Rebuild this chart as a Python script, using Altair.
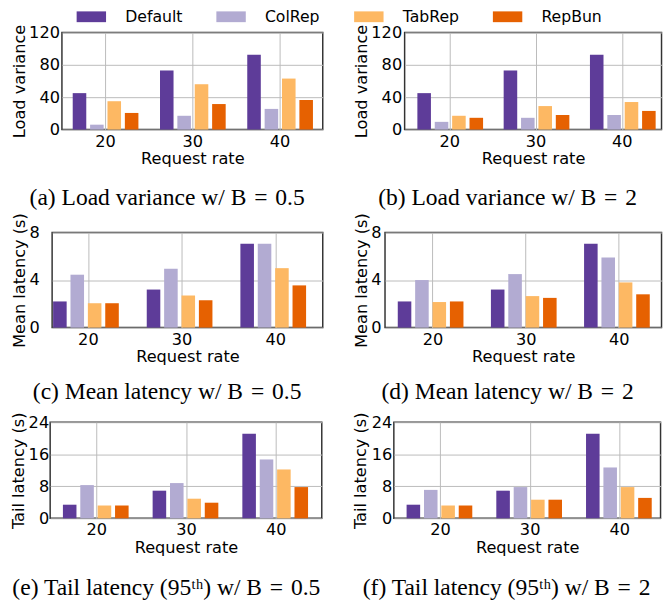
import altair as alt
import pandas as pd

methods = ["Default", "ColRep", "TabRep", "RepBun"]
colors = ["#5e3c99", "#b2abd2", "#fdb863", "#e66101"]
rates = ["20", "30", "40"]

# (a) Load variance, B = 0.5
load_var_b05 = {"Default": [45, 73, 92.5], "ColRep": [6, 17, 25.5],
                "TabRep": [35, 56, 63], "RepBun": [20.5, 31.5, 36.5]}
# (b) Load variance, B = 2
load_var_b2 = {"Default": [45, 73, 92.5], "ColRep": [9.5, 14.5, 18],
               "TabRep": [17, 29, 34], "RepBun": [14.5, 18, 23]}
# (c) Mean latency, B = 0.5
mean_lat_b05 = {"Default": [2.2, 3.2, 7.05], "ColRep": [4.45, 4.95, 7.05],
                "TabRep": [2.05, 2.7, 5.0], "RepBun": [2.05, 2.3, 3.55]}
# (d) Mean latency, B = 2
mean_lat_b2 = {"Default": [2.2, 3.2, 7.05], "ColRep": [4.0, 4.5, 5.9],
               "TabRep": [2.15, 2.65, 3.8], "RepBun": [2.2, 2.5, 2.8]}
# (e) Tail latency (95th), B = 0.5
tail_lat_b05 = {"Default": [3.4, 6.9, 21.1], "ColRep": [8.3, 8.8, 14.7],
                "TabRep": [3.2, 4.9, 12.2], "RepBun": [3.2, 3.9, 7.8]}
# (f) Tail latency (95th), B = 2
tail_lat_b2 = {"Default": [3.4, 6.9, 21.1], "ColRep": [7.1, 7.8, 12.7],
               "TabRep": [3.2, 4.65, 7.8], "RepBun": [3.2, 4.65, 5.1]}

FONT = "DejaVu Sans"
SERIF = "Liberation Serif"
AX = 16.5
SP = "\u2004"

legend = alt.Legend(
    title=None, orient="none", legendX=77, legendY=-24, direction="horizontal",
    columns=4, columnPadding=34.5, labelOffset=26.5, labelFontSize=16, labelFont=FONT,
    labelColor="black", symbolType="M-3,-1.1H3V1.1H-3Z", symbolSize=100,
    symbolStrokeWidth=0, symbolOpacity=1, padding=0,
)


def panel(vals, ytitle, ymax, yticks, caption, width, height, step, band,
          left, right, ylabpad, ytitpad, cap_offset):
    df = pd.DataFrame([
        {"rate": r, "method": m, "value": vals[m][i]}
        for m in methods for i, r in enumerate(rates)
    ])
    return alt.Chart(df).mark_bar().encode(
        x=alt.X("rate:N", sort=rates,
                scale=alt.Scale(paddingInner=1 - band / step,
                                paddingOuter=(left + right) / (2 * step),
                                align=left / (left + right)),
                axis=alt.Axis(title="Request rate", labelAngle=0, grid=True,
                              bandPosition=0.5, ticks=False, domain=False,
                              labelPadding=4, titlePadding=1.5)),
        xOffset=alt.XOffset("method:N", sort=methods,
                            scale=alt.Scale(paddingInner=0.22, paddingOuter=0)),
        y=alt.Y("value:Q", scale=alt.Scale(domain=[0, ymax], nice=False),
                axis=alt.Axis(title=ytitle, values=yticks, grid=True, ticks=False,
                              domain=False, labelPadding=ylabpad,
                              titlePadding=ytitpad)),
        color=alt.Color("method:N", sort=methods,
                        scale=alt.Scale(domain=methods, range=colors),
                        legend=legend),
    ).properties(
        width=width, height=height,
        title=alt.Title(caption, orient="bottom", frame="bounds", anchor="middle",
                        font=SERIF, fontSize=24, fontWeight="normal",
                        color="black", offset=cap_offset),
    )


def spacer():
    return alt.Chart(pd.DataFrame({"v": [0]})).mark_rule(
        opacity=0, strokeWidth=0
    ).encode(
        x=alt.value(0), y=alt.value(0), y2=alt.value(1)
    ).properties(
        width=2, height=1,
        view=alt.ViewBackground(stroke="transparent", strokeWidth=0),
    )


pa = panel(load_var_b05, "Load variance", 120, [0, 40, 80, 120],
           f"(a) Load variance w/ B{SP}={SP}0.5", 266, 99, 89, 67, 11, 10, 2.5, 1.5, 19.2)
pb = panel(load_var_b2, "Load variance", 120, [0, 40, 80, 120],
           f"(b) Load variance w/ B{SP}={SP}2", 262, 99, 88, 66, 13, 7, 3, 1.5, 19.2)
pc = panel(mean_lat_b05, "Mean latency (s)", 8, [0, 4, 8],
           f"(c) Mean latency w/ B{SP}={SP}0.5", 276, 97, 95.5, 72, 1, 12, 13, 2, 15.7)
pd_ = panel(mean_lat_b2, "Mean latency (s)", 8, [0, 4, 8],
            f"(d) Mean latency w/ B{SP}={SP}2", 282, 97, 95, 72, 13, 7, 4, 1.5, 15.7)
pe = panel(tail_lat_b05, "Tail latency (s)", 24, [0, 8, 16, 24],
           f"(e) Tail latency (95ᵗʰ) w/ B{SP}={SP}0.5", 277, 98, 91.5, 69, 13, 12, 1.5, 1.5, 20.7)
pf = panel(tail_lat_b2, "Tail latency (s)", 24, [0, 8, 16, 24],
           f"(f) Tail latency (95ᵗʰ) w/ B{SP}={SP}2", 272, 98, 91.5, 69, 13, 7, 2, 3, 20.7)

row1 = alt.hconcat(spacer(), alt.hconcat(pa, pb, spacing=29.5), spacing=0)
row2 = alt.hconcat(spacer(), alt.hconcat(pc, pd_, spacing=29.5), spacing=0)
row3 = alt.hconcat(spacer(), alt.hconcat(pe, pf, spacing=29.5), spacing=0)

chart = alt.vconcat(
    row1, alt.vconcat(row2, row3, spacing=5.5), spacing=0
).properties(
    padding={"left": 0, "top": -5, "right": 0, "bottom": 0},
).configure_view(
    stroke="#333333", strokeWidth=1.5,
).configure_axis(
    labelFont=FONT, labelFontSize=AX, labelColor="black",
    titleFont=FONT, titleFontSize=AX, titleFontWeight="normal", titleColor="black",
    gridColor="#bbbbbb", gridWidth=1,
)

chart.save("out.html", embed_options={"renderer": "svg", "actions": False})
